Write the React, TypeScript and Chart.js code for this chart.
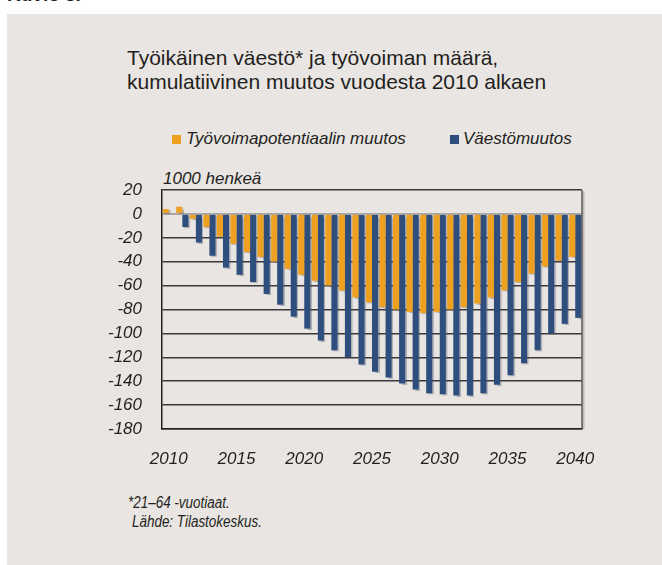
import React, { useEffect, useRef } from 'react';
import { Chart, registerables } from 'chart.js';

Chart.register(...registerables);

const years = [
  '2010', '2011', '2012', '2013', '2014', '2015', '2016', '2017', '2018', '2019',
  '2020', '2021', '2022', '2023', '2024', '2025', '2026', '2027', '2028', '2029',
  '2030', '2031', '2032', '2033', '2034', '2035', '2036', '2037', '2038', '2039', '2040',
];

const laborForceChange = [
  4, 6, -4, -11, -19, -25, -32, -36, -40, -46,
  -51, -56, -60, -64, -70, -74, -78, -80, -82, -83,
  -82, -80, -78, -75, -70, -64, -57, -50, -44, -39, -36,
];

const populationChange = [
  0, -11, -24, -35, -45, -51, -57, -67, -76, -86,
  -96, -106, -114, -120, -126, -132, -137, -142, -147, -150,
  -151, -152, -152, -150, -143, -135, -125, -114, -100, -92, -87,
];

const seriesLabels = ['Työvoimapotentiaalin muutos', 'Väestömuutos'];
const seriesColors = ['#EEA021', '#2E4F7E'];

const yMin = -180;
const yMax = 20;
const yStep = 20;

const FONT = "'Liberation Sans', Arial, Helvetica, sans-serif";
const TEXT = '#231F20';

const shadowPlugin = {
  id: 'barShadow',
  beforeDatasetsDraw(chart: any) {
    const ctx = chart.ctx;
    ctx.save();
    ctx.shadowColor = 'rgba(70,75,95,0.35)';
    ctx.shadowOffsetX = 1.5;
    ctx.shadowOffsetY = 1;
    ctx.shadowBlur = 1;
  },
  afterDatasetsDraw(chart: any) {
    chart.ctx.restore();
  },
};

const rightBorderPlugin = {
  id: 'rightBorder',
  afterDatasetsDraw(chart: any) {
    const { ctx, chartArea } = chart;
    ctx.save();
    ctx.strokeStyle = 'rgba(0,0,0,0.18)';
    ctx.lineWidth = 2;
    ctx.beginPath();
    ctx.moveTo(chartArea.right + 1.5, chartArea.top + 1);
    ctx.lineTo(chartArea.right + 1.5, chartArea.bottom);
    ctx.stroke();
    ctx.strokeStyle = '#5a5a5a';
    ctx.lineWidth = 1.5;
    ctx.beginPath();
    ctx.moveTo(chartArea.right, chartArea.top);
    ctx.lineTo(chartArea.right, chartArea.bottom);
    ctx.stroke();
    ctx.restore();
  },
};

export default function App() {
  const canvasRef = useRef<HTMLCanvasElement | null>(null);

  useEffect(() => {
    if (!canvasRef.current) return;
    const chart = new Chart(canvasRef.current, {
      type: 'bar',
      data: {
        labels: years,
        datasets: [
          {
            label: seriesLabels[0],
            data: laborForceChange,
            backgroundColor: seriesColors[0],
            borderWidth: 0,
            barPercentage: 1,
            categoryPercentage: 0.9,
          },
          {
            label: seriesLabels[1],
            data: populationChange,
            backgroundColor: seriesColors[1],
            borderWidth: 0,
            barPercentage: 1,
            categoryPercentage: 0.9,
          },
        ],
      },
      options: {
        animation: false,
        responsive: false,
        maintainAspectRatio: false,
        devicePixelRatio: 1,
        layout: { padding: { top: 40, right: 65, left: 0, bottom: 0 } },
        plugins: {
          legend: { display: false },
          title: { display: false },
          tooltip: { enabled: false },
        },
        scales: {
          x: {
            grid: { display: false, drawTicks: false },
            border: { display: true, color: TEXT, width: 1.5 },
            ticks: {
              autoSkip: false,
              maxRotation: 0,
              minRotation: 0,
              padding: 20,
              color: TEXT,
              font: { family: FONT, size: 17, style: 'italic' },
              callback: (_v: any, i: number) => (Number(years[i]) % 5 === 0 ? years[i] : ''),
            },
            afterFit: (scale: any) => {
              scale.height = 61;
            },
          },
          y: {
            min: yMin,
            max: yMax,
            grid: {
              drawTicks: false,
              color: (c: any) => (c.tick && c.tick.value === 0 ? '#A9A6A3' : '#3A3838'),
              lineWidth: (c: any) => (c.tick && c.tick.value === 0 ? 2 : 1.5),
            },
            border: { display: true, color: TEXT, width: 1.5 },
            ticks: {
              stepSize: yStep,
              padding: 20,
              color: TEXT,
              font: { family: FONT, size: 17, style: 'italic' },
            },
            afterFit: (scale: any) => {
              scale.width = 155;
            },
          },
        },
      },
      plugins: [shadowPlugin, rightBorderPlugin],
    });
    return () => chart.destroy();
  }, []);

  const abs = (s: React.CSSProperties): React.CSSProperties => ({ position: 'absolute', margin: 0, ...s });

  return (
    <div
      style={{
        position: 'fixed',
        left: 0,
        top: 0,
        width: 662,
        height: 565,
        overflow: 'hidden',
        background: '#FFFFFF',
        fontFamily: FONT,
        color: TEXT,
      }}
    >
      <div style={abs({ left: 7, top: -15, fontSize: 19, lineHeight: '19px', fontWeight: 'bold', whiteSpace: 'nowrap' })}>
        Kuvio 3.
      </div>
      <div style={abs({ left: 7, top: 14, width: 655, height: 551, background: '#E9E5E2' })} />
      <div style={abs({ left: 127, top: 45.7, fontSize: 21, lineHeight: '24px', whiteSpace: 'nowrap' })}>
        <div>Työikäinen väestö* ja työvoiman määrä,</div>
        <div>kumulatiivinen muutos vuodesta 2010 alkaen</div>
      </div>
      <div style={abs({ left: 172, top: 134.5, width: 9, height: 9, background: seriesColors[0] })} />
      <div style={abs({ left: 186, top: 129, fontSize: 17, lineHeight: '20px', fontStyle: 'italic', whiteSpace: 'nowrap' })}>
        {seriesLabels[0]}
      </div>
      <div style={abs({ left: 450, top: 134.5, width: 9, height: 9, background: seriesColors[1] })} />
      <div style={abs({ left: 463, top: 129, fontSize: 17, lineHeight: '20px', fontStyle: 'italic', whiteSpace: 'nowrap' })}>
        {seriesLabels[1]}
      </div>
      <div style={abs({ left: 163, top: 169, fontSize: 17, lineHeight: '20px', fontStyle: 'italic', whiteSpace: 'nowrap' })}>
        1000 henkeä
      </div>
      <canvas
        ref={canvasRef}
        width={640}
        height={340}
        style={{ position: 'absolute', left: 7, top: 150, width: 640, height: 340 }}
      />
      <div
        style={abs({
          left: 128,
          top: 493,
          fontSize: 16,
          lineHeight: '19px',
          fontStyle: 'italic',
          whiteSpace: 'nowrap',
          transform: 'scaleX(0.84)',
          transformOrigin: 'left top',
        })}
      >
        *21–64 -vuotiaat.
      </div>
      <div
        style={abs({
          left: 131.5,
          top: 512,
          fontSize: 16,
          lineHeight: '19px',
          fontStyle: 'italic',
          whiteSpace: 'nowrap',
          transform: 'scaleX(0.84)',
          transformOrigin: 'left top',
        })}
      >
        Lähde: Tilastokeskus.
      </div>
    </div>
  );
}
